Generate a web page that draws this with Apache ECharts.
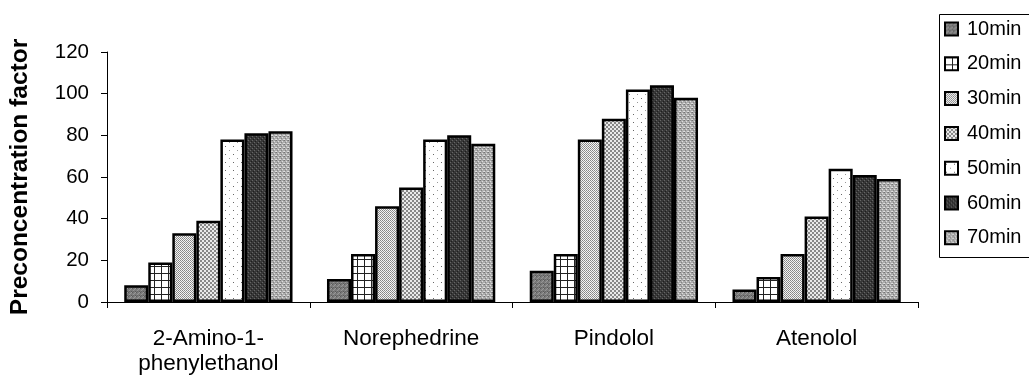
<!DOCTYPE html>
<html>
<head>
<meta charset="utf-8">
<script src="https://cdn.jsdelivr.net/npm/echarts@6/dist/echarts.min.js"></script>
<style>html,body{margin:0;padding:0;background:#fff}#c{width:1029px;height:378px}</style>
</head>
<body>
<div id="c"></div>
<script>
// ---- data ----
const categories = ['2-Amino-1-\nphenylethanol', 'Norephedrine', 'Pindolol', 'Atenolol'];
const seriesNames = ['10min', '20min', '30min', '40min', '50min', '60min', '70min'];
const v10 = [8, 11, 15, 6];
const v20 = [19, 23, 23, 12];
const v30 = [33, 46, 78, 23];
const v40 = [39, 55, 88, 41];
const v50 = [78, 78, 102, 64];
const v60 = [81, 80, 104, 61];
const v70 = [82, 76, 98, 59];
const seriesValues = [v10, v20, v30, v40, v50, v60, v70];
const yTicks = [0, 20, 40, 60, 80, 100, 120];

// ---- fill patterns (styles) ----
function pat(w, h, draw) {
  const c = document.createElement('canvas');
  c.width = w; c.height = h;
  const g = c.getContext('2d');
  draw(g, w, h);
  return { image: c, repeat: 'repeat' };
}
function px(g, x, y, col) { g.fillStyle = col; g.fillRect(x, y, 1, 1); }
const patterns = [
  // 10min: medium-dark grey speckle
  pat(4, 4, (g) => {
    g.fillStyle = '#7a7a7a'; g.fillRect(0, 0, 4, 4);
    px(g, 0, 0, '#5a5a5a'); px(g, 2, 1, '#969696'); px(g, 1, 2, '#969696'); px(g, 3, 3, '#5a5a5a');
    px(g, 3, 0, '#9c9c9c'); px(g, 1, 3, '#666');
  }),
  // 20min: white with black grid
  pat(7, 7, (g) => {
    g.fillStyle = '#ffffff'; g.fillRect(0, 0, 7, 7);
    g.fillStyle = '#222'; g.fillRect(0, 0, 7, 1); g.fillRect(0, 0, 1, 7);
  }),
  // 30min: light grey fine dither
  pat(2, 2, (g) => {
    g.fillStyle = '#f4f4f4'; g.fillRect(0, 0, 2, 2);
    px(g, 0, 0, '#858585'); px(g, 1, 1, '#959595');
  }),
  // 40min: coarser checker
  pat(4, 4, (g) => {
    g.fillStyle = '#eaeaea'; g.fillRect(0, 0, 4, 4);
    g.fillStyle = '#888'; g.fillRect(0, 0, 2, 2); g.fillRect(2, 2, 2, 2);
  }),
  // 50min: white with sparse dots
  pat(8, 8, (g) => {
    g.fillStyle = '#ffffff'; g.fillRect(0, 0, 8, 8);
    px(g, 1, 2, '#666'); px(g, 5, 6, '#999');
  }),
  // 60min: dark
  pat(4, 4, (g) => {
    g.fillStyle = '#383838'; g.fillRect(0, 0, 4, 4);
    px(g, 0, 0, '#666'); px(g, 2, 2, '#666'); px(g, 1, 3, '#1e1e1e'); px(g, 3, 1, '#1e1e1e');
  }),
  // 70min: medium grey speckle
  pat(4, 4, (g) => {
    g.fillStyle = '#acacac'; g.fillRect(0, 0, 4, 4);
    px(g, 0, 0, '#747474'); px(g, 2, 1, '#dddddd'); px(g, 1, 2, '#848484'); px(g, 3, 3, '#d8d8d8');
    px(g, 3, 0, '#8c8c8c'); px(g, 0, 3, '#e2e2e2');
  })
];

const chart = echarts.init(document.getElementById('c'), null, { renderer: 'canvas' });
chart.setOption({
  backgroundColor: '#ffffff',
  animation: false,
  grid: { left: 104, right: 111, top: 52, bottom: 76, containLabel: false },
  graphic: [{
    type: 'rect', left: 937, top: 12, z: -1, silent: true,
    shape: { width: 140, height: 243 },
    style: { fill: 'none', stroke: '#000', lineWidth: 1 }
  }],
  legend: {
    orient: 'vertical',
    left: 938, top: 13,
    padding: [6, 0, 9, 6],
    borderWidth: 0,
    itemWidth: 13, itemHeight: 13, itemGap: 14.8,
    icon: 'rect',
    textStyle: { fontFamily: 'Liberation Sans', fontSize: 20, color: '#000', lineHeight: 20, padding: [0, 0, 0, 4] },
    data: seriesNames
  },
  xAxis: {
    type: 'category',
    data: categories,
    axisLine: { lineStyle: { color: '#000', width: 1 } },
    axisTick: { show: true, length: 6, alignWithLabel: false, lineStyle: { color: '#000' } },
    axisLabel: { color: '#000', fontFamily: 'Liberation Sans', fontSize: 22.5, lineHeight: 25, margin: 24, interval: 0 }
  },
  yAxis: {
    type: 'value',
    min: yTicks[0], max: yTicks[yTicks.length - 1], interval: 20,
    name: 'Preconcentration factor',
    nameLocation: 'middle',
    nameGap: 74,
    nameTextStyle: { color: '#000', fontFamily: 'Liberation Sans', fontWeight: 'bold', fontSize: 24.5 },
    axisLine: { show: true, lineStyle: { color: '#000', width: 1 } },
    axisTick: { show: true, length: 6, lineStyle: { color: '#000' } },
    splitLine: { show: false },
    axisLabel: { color: '#000', fontFamily: 'Liberation Sans', fontSize: 20.5, margin: 18 }
  },
  series: seriesNames.map((name, i) => ({
    name: name,
    type: 'bar',
    data: seriesValues[i],
    barGap: '0%',
    barCategoryGap: '17%',
    itemStyle: { color: patterns[i], borderColor: '#000', borderWidth: 2.5 }
  }))
});
</script>
</body>
</html>
